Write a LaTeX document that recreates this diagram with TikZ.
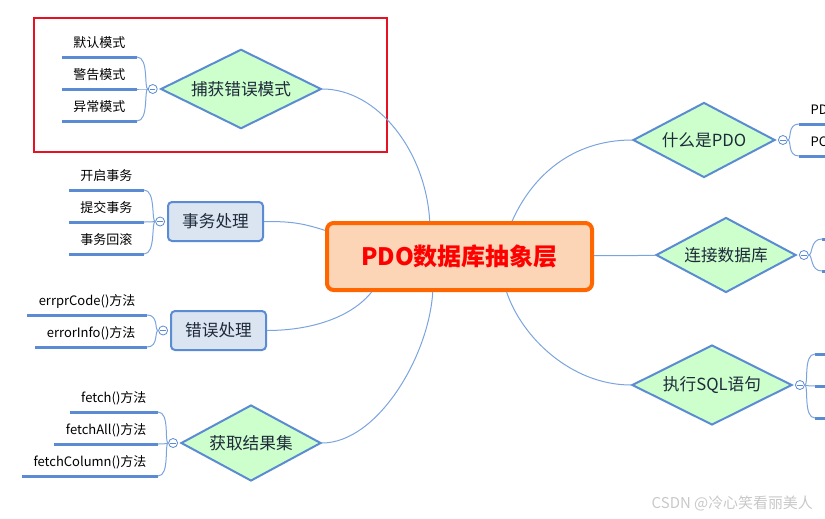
\documentclass[tikz,border=0pt]{standalone}
\usepackage{fontspec}
\setmainfont{Noto Sans CJK SC}
\usetikzlibrary{shapes.geometric, positioning}
\definecolor{mblue}{HTML}{5B8BD3}
\definecolor{lblue}{HTML}{7BA4DE}
\definecolor{mgreen}{HTML}{CCFFCC}
\definecolor{mgrey}{HTML}{DBE5F1}
\definecolor{morange}{HTML}{FF6600}
\definecolor{mpeach}{HTML}{FBD5B5}
\definecolor{mred}{HTML}{FF0000}
\definecolor{mframe}{HTML}{E81123}
\definecolor{mtext}{HTML}{1E2A3A}
\definecolor{wgrey}{HTML}{C8C8C8}
\tikzset{
  root/.style={draw=morange, fill=mpeach, line width=3pt, rounded corners=5pt, minimum width=198.75pt, minimum height=50.25pt, text=mred, font=\fontsize{18}{22}\selectfont\bfseries},
  topic/.style={diamond, draw=mblue, fill=mgreen, line width=1.5pt, inner sep=0pt, aspect=2, text=mtext, font=\fontsize{12.5}{15}\selectfont},
  task/.style={draw=mblue, fill=mgrey, line width=1.5pt, rounded corners=3pt, minimum width=71.25pt, minimum height=29.25pt, text=mtext, font=\fontsize{12.5}{15}\selectfont},
  toggle/.style={circle, draw=mblue, fill=white, line width=0.6pt, minimum size=6.75pt, inner sep=0pt,
    path picture={\draw[mblue, line width=0.5pt] ([xshift=-2pt]path picture bounding box.center) -- ([xshift=2pt]path picture bounding box.center);}},
  leaf/.style={inner xsep=8.5pt, inner ysep=5pt, text height=7.5pt, text depth=2pt, font=\fontsize{9.75}{12}\selectfont},
  leafline/.style={draw=mblue, line width=2.25pt},
  branch/.style={draw=lblue, line width=0.75pt},
  twig/.style={draw=lblue, line width=0.75pt},
  frame/.style={draw=mframe, line width=1.5pt},
  wmark/.style={text=wgrey, font=\fontsize{11.2}{13}\selectfont, anchor=west},
}
\begin{document}
\begin{tikzpicture}[x=0.75pt, y=-0.75pt]
  \useasboundingbox (0,0) rectangle (825,518);
  \clip (0,0) rectangle (825,518);
  % ---- centre and main topics
  \node[root] (main) at (459.5,256.5) {PDO数据库抽象层};
  \node[topic, minimum width=120.5pt, minimum height=59.5pt] (catch) at (241,89) {捕获错误模式};
  \node[task] (trans) at (215.5,221.5) {事务处理};
  \node[task] (err) at (218.5,330.5) {错误处理};
  \node[topic, minimum width=105pt, minimum height=57pt] (fetch) at (251,443) {获取结果集};
  \node[topic, minimum width=106.5pt, minimum height=56.25pt] (what) at (704,140) {什么是PDO};
  \node[topic, minimum width=105pt, minimum height=56.25pt] (conn) at (726,255) {连接数据库};
  \node[topic, minimum width=120pt, minimum height=60pt] (exec) at (712,385) {执行SQL语句};
  \draw[frame] (34,18) rectangle (387,152);
  % ---- branches
  \draw[branch] (main.130) .. controls +(-4,-70) and +(55,0) .. (catch.east);
  \draw[branch] (main.169) .. controls +(-25,-8) and +(25,0) .. (trans.east);
  \draw[branch] (main.202) .. controls +(-20,25) and +(45,0) .. (err.east);
  \draw[branch] (main.233) .. controls +(-4,65) and +(55,0) .. (fetch.east);
  \draw[branch] (main.34) .. controls +(20,-45) and +(-60,0) .. (what.west);
  \draw[branch] (main) -- (conn);
  \draw[branch] (main.323) .. controls +(15,45) and +(-60,0) .. (exec.west);
  % ---- toggles
  \foreach \n in {catch, trans, err, fetch}
    \node[toggle, left=1.5pt of \n.west] (\n-t) {};
  \foreach \n in {what, conn, exec}
    \node[toggle, right=1.5pt of \n.east] (\n-t) {};
  % ---- leaves, left side
  \node[leaf, anchor=south east] (c1) at (137,57) {默认模式};
  \node[leaf, anchor=south east] (c2) at (137,89) {警告模式};
  \node[leaf, anchor=south east] (c3) at (137,121) {异常模式};
  \node[leaf, anchor=south east] (t1) at (144,190) {开启事务};
  \node[leaf, anchor=south east] (t2) at (144,222) {提交事务};
  \node[leaf, anchor=south east] (t3) at (144,254) {事务回滚};
  \node[leaf, anchor=south east] (e1) at (147,315) {errprCode()方法};
  \node[leaf, anchor=south east] (e2) at (147,347) {errorInfo()方法};
  \node[leaf, anchor=south east] (f1) at (158,412) {fetch()方法};
  \node[leaf, anchor=south east] (f2) at (158,444) {fetchAll()方法};
  \node[leaf, anchor=south east] (f3) at (158,476) {fetchColumn()方法};
  % ---- leaves, right side
  \node[leaf, anchor=south west] (w1) at (799,124) {PD};
  \node[leaf, anchor=south west] (w2) at (799,156) {PC};
  \node[leaf, anchor=south west] (n1) at (822,239) {};
  \node[leaf, anchor=south west] (n2) at (822,271) {};
  \node[leaf, anchor=south west] (x1) at (815,354) {};
  \node[leaf, anchor=south west] (x2) at (815,386) {};
  \node[leaf, anchor=south west] (x3) at (815,418) {};
  \foreach \p/\l in {catch/c1, catch/c2, catch/c3, trans/t1, trans/t2, trans/t3, err/e1, err/e2, fetch/f1, fetch/f2, fetch/f3} {
    \draw[leafline] (\l.south west) -- (\l.south east);
    \draw[twig] (\p-t.west) .. controls +(-4,0) and +(12,0) .. (\l.south east);
  }
  \foreach \p/\l in {what/w1, what/w2, conn/n1, conn/n2, exec/x1, exec/x2, exec/x3} {
    \draw[leafline] (\l.south west) -- (\l.south east);
    \draw[twig] (\p-t.east) .. controls +(4,0) and +(-12,0) .. (\l.south west);
  }
  \node[wmark] (credit) at (647,503) {CSDN @冷心笑看丽美人};
\end{tikzpicture}
\end{document}
